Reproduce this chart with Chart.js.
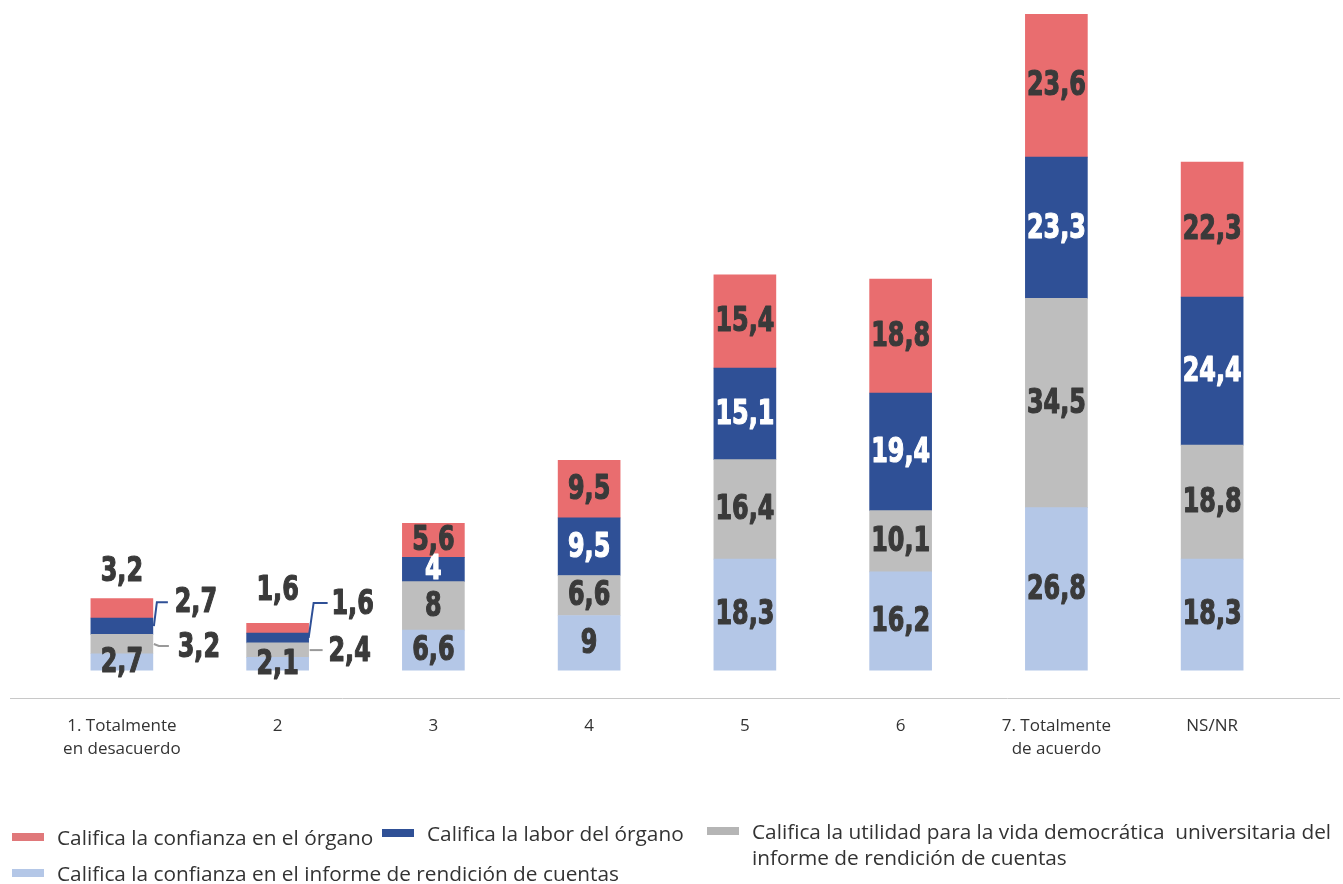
<!DOCTYPE html>
<html>
<head>
<meta charset="utf-8">
<script src="https://cdn.jsdelivr.net/npm/chart.js@4"></script>
<style>
  body { margin: 0; background: #fff; overflow: hidden; }
  #wrap { position: relative; width: 1343px; height: 884px; }
  #grafico { position: absolute; left: 0; top: 0; }
  .ley { position: absolute; font-family: "Open Sans", sans-serif; font-size: 20.8px; color: #333; line-height: 26px; white-space: nowrap; }
  .ley span { position: absolute; left: -45px; top: 9px; width: 32px; height: 8px; }
</style>
</head>
<body>
<div id="wrap">
  <canvas id="grafico" width="1343" height="884"></canvas>
  <div class="ley" style="left:57px; top:824px;"><span style="background:#E0787A"></span>Califica la confianza en el órgano</div>
  <div class="ley" style="left:427px; top:820px;"><span style="background:#2F5096"></span>Califica la labor del órgano</div>
  <div class="ley" style="left:752px; top:818px;"><span style="background:#B5B5B5"></span>Califica la utilidad para la vida democrática&nbsp; universitaria del<br>informe de rendición de cuentas</div>
  <div class="ley" style="left:57px; top:860px;"><span style="background:#B4C7E7"></span>Califica la confianza en el informe de rendición de cuentas</div>
</div>
<script>
const categorias = [['1. Totalmente', 'en desacuerdo'], '2', '3', '4', '5', '6', ['7. Totalmente', 'de acuerdo'], 'NS/NR'];

const confianzaInforme = [2.7, 2.1, 6.6, 9, 18.3, 16.2, 26.8, 18.3];
const utilidad = [3.2, 2.4, 8, 6.6, 16.4, 10.1, 34.5, 18.8];
const labor = [2.7, 1.6, 4, 9.5, 15.1, 19.4, 23.3, 24.4];
const confianzaOrgano = [3.2, 1.6, 5.6, 9.5, 15.4, 18.8, 23.6, 22.3];

const colores = ['#B4C7E7', '#BEBEBE', '#2F5096', '#E96D6F'];
const colorTexto = ['#3a3a3a', '#3a3a3a', '#ffffff', '#3a3a3a'];

// etiquetas fuera de la barra para las dos primeras categorias
function posicionFuera(ds, i, bar) {
  const der = bar.x + bar.width / 2;
  const mid = (bar.y + bar.base) / 2;
  if (i === 0) {
    if (ds === 3) return { x: bar.x, y: bar.y - 27 };
    if (ds === 2) return { x: der + 43, y: mid - 24, linea: [[der + 1, mid], [der + 4, mid - 24], [der + 15, mid - 24]], color: '#2F5096' };
    if (ds === 1) return { x: der + 46, y: mid + 3, linea: [[der + 1, mid], [der + 6, mid + 2], [der + 16, mid + 2]], color: '#999' };
  }
  if (i === 1) {
    if (ds === 3) return { x: bar.x, y: bar.y - 33 };
    if (ds === 2) return { x: der + 44, y: mid - 34, linea: [[der, mid], [der + 5, mid - 35], [der + 19, mid - 35]], color: '#2F5096' };
    if (ds === 1) return { x: der + 41, y: mid + 1, linea: [[der + 1, mid], [der + 14, mid]], color: '#999' };
  }
  return null;
}

const etiquetas = {
  id: 'etiquetas',
  afterDatasetsDraw(chart) {
    const ctx = chart.ctx;
    chart.data.datasets.forEach((dataset, ds) => {
      chart.getDatasetMeta(ds).data.forEach((bar, i) => {
        const valor = dataset.data[i];
        const texto = String(valor).replace('.', ',');
        let x = bar.x, y = (bar.y + bar.base) / 2, color = colorTexto[ds];
        const fuera = posicionFuera(ds, i, bar);
        if (fuera) {
          x = fuera.x; y = fuera.y; color = '#3a3a3a';
          if (fuera.linea) {
            ctx.save();
            ctx.strokeStyle = fuera.color;
            ctx.lineWidth = 2;
            ctx.beginPath();
            fuera.linea.forEach((p, k) => k ? ctx.lineTo(p[0], p[1]) : ctx.moveTo(p[0], p[1]));
            ctx.stroke();
            ctx.restore();
          }
        }
        ctx.save();
        ctx.translate(x, y);
        ctx.scale(0.78, 1);
        ctx.font = 'bold 34px "DejaVu Sans Condensed", "DejaVu Sans", sans-serif';
        ctx.fillStyle = color;
        ctx.strokeStyle = color;
        ctx.lineWidth = 1.2;
        ctx.lineJoin = 'round';
        ctx.textAlign = 'center';
        ctx.textBaseline = 'middle';
        ctx.fillText(texto, 0, 1);
        ctx.strokeText(texto, 0, 1);
        ctx.restore();
      });
    });
  }
};

const lineaBase = {
  id: 'lineaBase',
  afterDraw(chart) {
    const ctx = chart.ctx;
    const y = chart.chartArea.bottom;
    ctx.save();
    ctx.strokeStyle = '#c8c8c8';
    ctx.lineWidth = 1;
    ctx.beginPath();
    ctx.moveTo(10, y + 0.5);
    ctx.lineTo(1340, y + 0.5);
    ctx.stroke();
    ctx.restore();
  }
};

const nombres = [
  'Califica la confianza en el informe de rendición de cuentas',
  'Califica la utilidad para la vida democrática universitaria del informe de rendición de cuentas',
  'Califica la labor del órgano',
  'Califica la confianza en el órgano'
];
const series = [confianzaInforme, utilidad, labor, confianzaOrgano];

new Chart(document.getElementById('grafico'), {
  type: 'bar',
  data: {
    labels: categorias,
    datasets: series.map((s, k) => ({
      label: nombres[k],
      data: s,
      backgroundColor: colores[k],
      barThickness: 62
    }))
  },
  options: {
    responsive: false,
    animation: false,
    layout: { padding: { left: 44, right: 53, top: 14, bottom: 0 } },
    plugins: {
      legend: { display: false },
      tooltip: { enabled: false }
    },
    scales: {
      x: {
        stacked: true,
        grid: { display: false },
        border: { display: false },
        ticks: {
          color: '#333',
          font: { family: 'Open Sans', size: 17, lineHeight: 1.35 },
          padding: 9,
          maxRotation: 0
        },
        afterFit(axis) { axis.height = 186; }
      },
      y: {
        stacked: true,
        display: false,
        min: -4.6,
        max: 108.2
      }
    }
  },
  plugins: [etiquetas, lineaBase]
});
</script>
</body>
</html>
